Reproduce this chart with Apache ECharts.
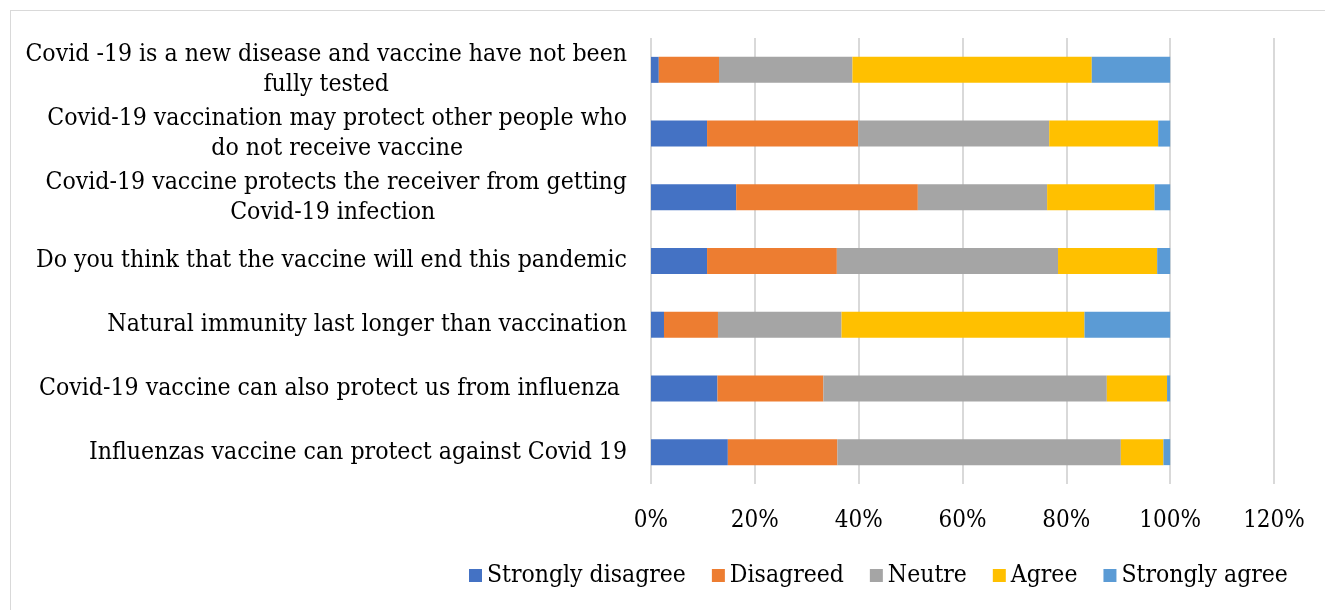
<!DOCTYPE html>
<html>
<head>
<meta charset="utf-8">
<script src="https://cdn.jsdelivr.net/npm/echarts@6/dist/echarts.min.js"></script>
<style>
  html, body { margin: 0; padding: 0; background: #fff; }
  #frame { position: absolute; left: 10px; top: 10px; width: 1320px; height: 604px; border: 1px solid #d9d9d9; box-sizing: border-box; }
  #chart { position: absolute; left: 0; top: 0; width: 1325px; height: 610px; }
</style>
</head>
<body>
<div id="frame"></div>
<div id="chart"></div>
<script>
  // statements, top to bottom
  const statements = [
    'Covid -19 is a new disease and vaccine have not been\nfully tested',
    'Covid-19 vaccination may protect other people who\ndo not receive vaccine',
    ' Covid-19 vaccine protects the receiver from getting\nCovid-19 infection',
    'Do you think that the vaccine will end this pandemic',
    'Natural immunity last longer than vaccination',
    'Covid-19 vaccine can also protect us from influenza ',
    'Influenzas vaccine can protect against Covid 19'
  ];

  // shares in percent, same order as statements
  const stronglyDisagree = [1.5, 10.8, 16.4, 10.8, 2.5, 12.8, 14.8];
  const disagreed        = [11.6, 29.1, 35.0, 25.0, 10.4, 20.4, 21.1];
  const neutre           = [25.7, 36.8, 24.9, 42.6, 23.8, 54.6, 54.6];
  const agree            = [46.1, 21.0, 20.7, 19.1, 46.8, 11.6, 8.2];
  const stronglyAgree    = [15.1, 2.3, 3.0, 2.5, 16.5, 0.6, 1.3];

  const seriesNames = ['Strongly disagree', 'Disagreed', 'Neutre', 'Agree', 'Strongly agree'];
  const seriesData = [stronglyDisagree, disagreed, neutre, agree, stronglyAgree];
  const colors = ['#4472C4', '#ED7D31', '#A5A5A5', '#FFC000', '#5B9BD5'];

  const font = '"DejaVu Serif Condensed", "Liberation Serif", serif';

  const chart = echarts.init(document.getElementById('chart'));
  chart.setOption({
    animation: false,
    color: colors,
    textStyle: { fontFamily: font, color: '#000' },
    grid: { left: 651, right: 51, top: 38, bottom: 126, containLabel: false },
    legend: {
      bottom: 17,
      left: 464,
      itemWidth: 13,
      itemHeight: 13,
      itemGap: 26,
      icon: 'rect',
      textStyle: { fontFamily: font, fontSize: 24.5, color: '#000' },
      data: seriesNames
    },
    xAxis: {
      type: 'value',
      min: 0,
      max: 120,
      interval: 20,
      axisLine: { show: false },
      axisTick: { show: false },
      splitLine: { lineStyle: { color: '#d9d9d9', width: 2 } },
      axisLabel: {
        formatter: '{value}%',
        fontFamily: font,
        fontSize: 24,
        color: '#000',
        margin: 25
      }
    },
    yAxis: {
      type: 'category',
      inverse: true,
      data: statements,
      axisLine: { show: false },
      axisTick: { show: false },
      axisLabel: {
        margin: 24,
        formatter: v => v.split('\n').map(l => '{c|' + l + '}').join('\n'),
        rich: {
          c: { align: 'center', fontFamily: font, fontSize: 24.6, lineHeight: 30, color: '#000' }
        }
      }
    },
    series: seriesNames.map((name, i) => ({
      name: name,
      type: 'bar',
      stack: 'total',
      barWidth: 26,
      data: seriesData[i]
    }))
  });
</script>
</body>
</html>
